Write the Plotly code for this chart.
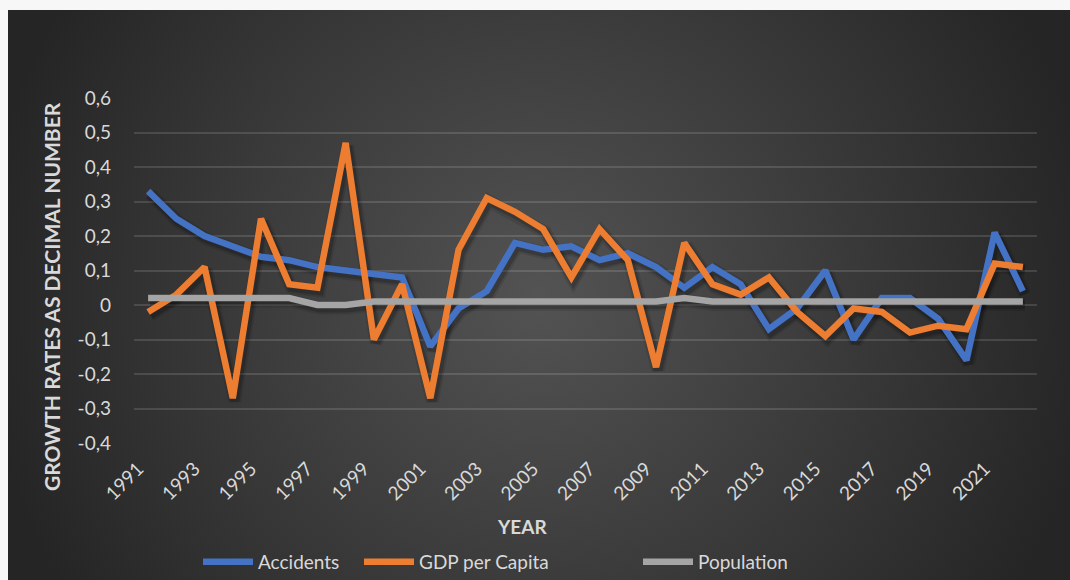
import base64
import plotly.graph_objects as go

# Annual growth rates (as decimal numbers)
years = list(range(1991, 2023))
accidents = [0.33, 0.25, 0.20, 0.17, 0.14, 0.13, 0.11, 0.10, 0.09, 0.08,
             -0.12, -0.01, 0.04, 0.18, 0.16, 0.17, 0.13, 0.15, 0.11, 0.05,
             0.11, 0.06, -0.07, -0.01, 0.10, -0.10, 0.02, 0.02, -0.04, -0.16,
             0.21, 0.04]
gdp_per_capita = [-0.02, 0.03, 0.11, -0.27, 0.25, 0.06, 0.05, 0.47, -0.10, 0.06,
                  -0.27, 0.16, 0.31, 0.27, 0.22, 0.08, 0.22, 0.13, -0.18, 0.18,
                  0.06, 0.03, 0.08, -0.02, -0.09, -0.01, -0.02, -0.08, -0.06, -0.07,
                  0.12, 0.11]
population = [0.02, 0.02, 0.02, 0.02, 0.02, 0.02, 0.00, 0.00, 0.01, 0.01,
              0.01, 0.01, 0.01, 0.01, 0.01, 0.01, 0.01, 0.01, 0.01, 0.02,
              0.01, 0.01, 0.01, 0.01, 0.01, 0.01, 0.01, 0.01, 0.01, 0.01,
              0.01, 0.01]
year_ticks = list(range(1991, 2022, 2))
y_ticks = [-0.4, -0.3, -0.2, -0.1, 0, 0.1, 0.2, 0.3, 0.4, 0.5, 0.6]
y_tick_text = ["-0,4", "-0,3", "-0,2", "-0,1", "0", "0,1", "0,2",
               "0,3", "0,4", "0,5", "0,6"]

series = [
    ("Accidents", accidents, "#4472C4"),
    ("GDP per Capita", gdp_per_capita, "#ED7D31"),
    ("Population", population, "#A5A5A5"),
]
# left edge (px) of each legend entry's line sample
legend_left = [202, 363, 642]

W, H = 1070, 580
# plot area in pixels
L, R, T, B = 134, 1037, 98, 443
PW, PH = R - L, B - T
# dark chart panel in pixels
CX0, CY0 = 8, 10
CW, CH = W - CX0, H - CY0
Y_MIN, Y_MAX = -0.4, 0.6
X_MIN, X_MAX = 1990.5, 2022.5

TXT = "#D9D9D9"
FONT = "Lato"

svg = f"""<svg xmlns="http://www.w3.org/2000/svg" width="{CW}" height="{CH}" viewBox="0 0 {CW} {CH}">
<defs><radialGradient id="g" gradientUnits="userSpaceOnUse" cx="{CW/2}" cy="{CH/2}" r="560">
<stop offset="0" stop-color="#535353"/><stop offset="1" stop-color="#252525"/></radialGradient></defs>
<rect width="{CW}" height="{CH}" fill="url(#g)"/></svg>"""
bg_src = "data:image/svg+xml;base64," + base64.b64encode(svg.encode()).decode()


def px_x(p):
    return (p - L) / PW


def px_y(p):
    return (B - p) / PH


fig = go.Figure()

# soft drop shadow: same series on hidden base axes nudged a few pixels down-right
dx = 2 * (X_MAX - X_MIN) / PW
dy = 3 * (Y_MAX - Y_MIN) / PH
for name, vals, color in series:
    for w, a in ((13, 0.10), (9, 0.18)):
        fig.add_trace(go.Scatter(
            x=years, y=vals, mode="lines", xaxis="x", yaxis="y",
            line=dict(color=f"rgba(0,0,0,{a})", width=w),
            showlegend=False, hoverinfo="skip",
        ))

# the series themselves, on the visible overlay axes drawn above the shadows
for i, (name, vals, color) in enumerate(series):
    fig.add_trace(go.Scatter(
        x=years, y=vals, name=name, mode="lines", xaxis="x2", yaxis="y2",
        line=dict(color=color, width=6.5),
        legend="legend" if i == 0 else f"legend{i + 1}",
        hoverinfo="x+y+name",
    ))

fig.add_layout_image(dict(
    source=bg_src, xref="paper", yref="paper",
    x=px_x(CX0), y=px_y(CY0), sizex=CW / PW, sizey=CH / PH,
    xanchor="left", yanchor="top", sizing="stretch", layer="below",
))

legend_style = dict(
    orientation="h", yanchor="middle", xanchor="left",
    font=dict(size=19, color=TXT, family=FONT),
    itemwidth=50, bgcolor="rgba(0,0,0,0)", borderwidth=0,
)
legends = {}
for i, lx in enumerate(legend_left):
    key = "legend" if i == 0 else f"legend{i + 1}"
    legends[key] = dict(legend_style, x=px_x(lx - 4), y=px_y(562))

fig.update_layout(
    width=W, height=H,
    margin=dict(l=L, r=W - R, t=T, b=H - B, pad=0, autoexpand=False),
    paper_bgcolor="#F7F7F7",
    plot_bgcolor="rgba(0,0,0,0)",
    font=dict(family=FONT, color=TXT, size=19),
    showlegend=True,
    xaxis=dict(range=[X_MIN - dx, X_MAX - dx], visible=False, automargin=False),
    yaxis=dict(range=[Y_MIN + dy, Y_MAX + dy], visible=False, automargin=False),
    xaxis2=dict(
        range=[X_MIN, X_MAX], overlaying="x", anchor="y2", side="bottom",
        tickmode="array", tickvals=year_ticks,
        ticktext=[str(y) for y in year_ticks], tickangle=-45,
        showgrid=False, zeroline=False, showline=False, ticks="",
        automargin=False, ticklabelstandoff=10, ticklabelshift=-10,
        tickfont=dict(size=19, color=TXT, family=FONT),
    ),
    yaxis2=dict(
        range=[Y_MIN, Y_MAX], overlaying="y", anchor="x2", side="left",
        tickmode="array", tickvals=y_ticks, ticktext=y_tick_text,
        showgrid=True, gridcolor="rgba(255,255,255,0.13)", gridwidth=1.5,
        zeroline=False, showline=False, ticks="",
        automargin=False, ticklabelstandoff=22,
        tickfont=dict(size=19, color=TXT, family=FONT),
    ),
    annotations=[
        dict(text="<b>GROWTH RATES AS DECIMAL NUMBER</b>", textangle=-90,
             xref="paper", yref="paper", x=px_x(51), y=px_y(297),
             xanchor="center", yanchor="middle", showarrow=False,
             font=dict(size=21, color=TXT, family=FONT)),
        dict(text="<b>YEAR</b>",
             xref="paper", yref="paper", x=px_x(522), y=px_y(526),
             xanchor="center", yanchor="middle", showarrow=False,
             font=dict(size=19, color=TXT, family=FONT)),
    ],
    **legends,
)

fig.write_html("out.html")
